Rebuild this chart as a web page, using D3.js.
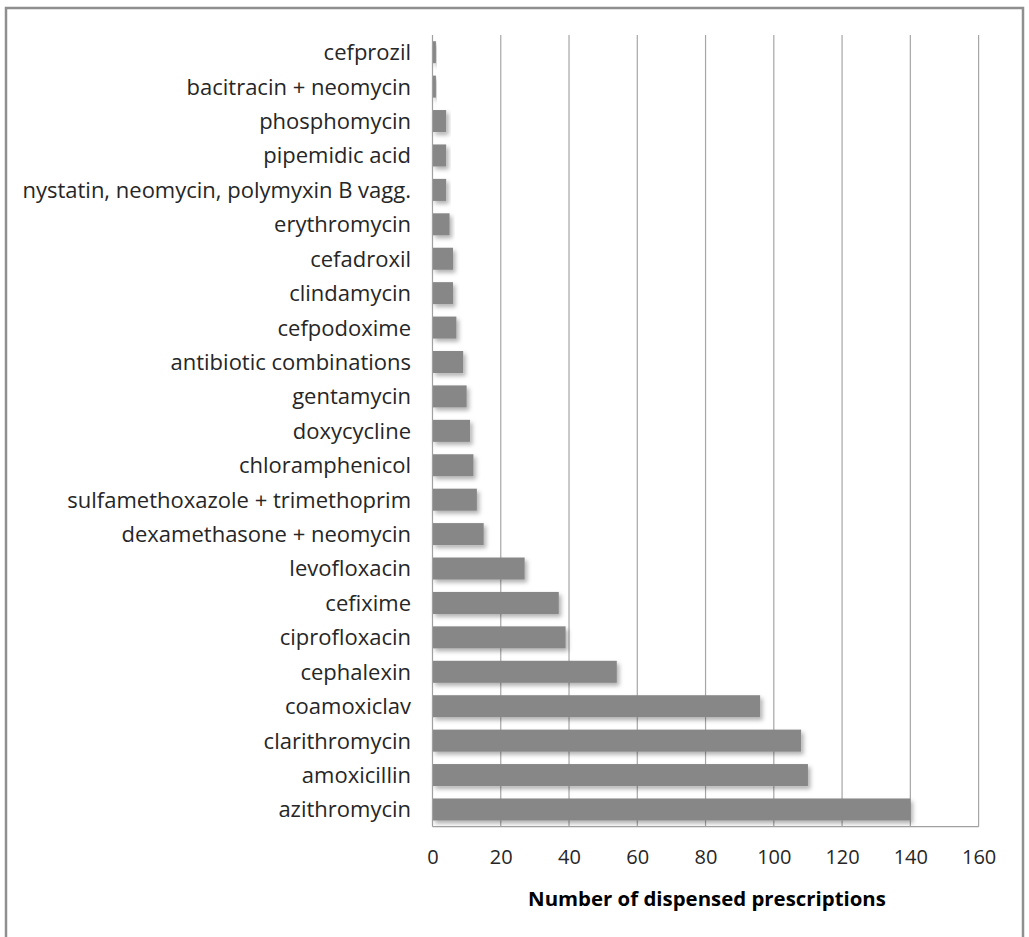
<!DOCTYPE html>
<html>
<head>
<meta charset="utf-8">
<script src="https://d3js.org/d3.v7.min.js"></script>
<style>
html,body{margin:0;padding:0;background:#fff;}
svg{display:block;}
text{font-family:"Open Sans",Lato,sans-serif;}
</style>
</head>
<body>
<script>
const categories = ["cefprozil","bacitracin + neomycin","phosphomycin","pipemidic acid","nystatin, neomycin, polymyxin B vagg.","erythromycin","cefadroxil","clindamycin","cefpodoxime","antibiotic combinations","gentamycin","doxycycline","chloramphenicol","sulfamethoxazole + trimethoprim","dexamethasone + neomycin","levofloxacin","cefixime","ciprofloxacin","cephalexin","coamoxiclav","clarithromycin","amoxicillin","azithromycin"];
const values = [1,1,4,4,4,5,6,6,7,9,10,11,12,13,15,27,37,39,54,96,108,110,140];
const xTicks = [0,20,40,60,80,100,120,140,160];
const xTitle = "Number of dispensed prescriptions";

(function(){
const W = 1029, H = 937;
const svg = d3.select("body").append("svg").attr("width", W).attr("height", H);

const defs = svg.append("defs");
const f = defs.append("filter").attr("id","shadow").attr("x","-20%").attr("y","-40%").attr("width","150%").attr("height","200%");
f.append("feDropShadow").attr("dx",2.5).attr("dy",3).attr("stdDeviation",2.2).attr("flood-color","#000").attr("flood-opacity",0.3);

// outer border
svg.append("rect").attr("x",6).attr("y",8).attr("width",1017).attr("height",960)
  .attr("fill","none").attr("stroke","#8f8f8f").attr("stroke-width",2.5);

const pL = 432.5, pR = 978.6, pT = 35, pB = 826.7;
const x = d3.scaleLinear().domain([0,160]).range([pL,pR]);
const y = d3.scaleBand().domain(categories).range([pT,pB]).paddingInner(0.36).paddingOuter(0.18);

// gridlines
svg.append("g").selectAll("line").data(xTicks.slice(1)).join("line")
  .attr("x1",d=>x(d)).attr("x2",d=>x(d)).attr("y1",pT).attr("y2",pB)
  .attr("stroke","#a6a6a6").attr("stroke-width",1.2);

// bars
svg.append("g").selectAll("rect").data(values).join("rect")
  .attr("x",x(0)).attr("y",(d,i)=>y(categories[i]))
  .attr("width",d=>x(d)-x(0)).attr("height",y.bandwidth())
  .attr("fill","#878787").attr("filter","url(#shadow)");

// axis lines
svg.append("line").attr("x1",x(0)).attr("x2",x(0)).attr("y1",pT).attr("y2",pB)
  .attr("stroke","#a0a0a0").attr("stroke-width",1.2);
svg.append("line").attr("x1",x(0)).attr("x2",pR).attr("y1",pB).attr("y2",pB)
  .attr("stroke","#a0a0a0").attr("stroke-width",1.2);

// category labels
svg.append("g").selectAll("text").data(categories).join("text")
  .attr("x",411).attr("y",d=>y(d)+y.bandwidth()/2).attr("dy","0.36em")
  .attr("text-anchor","end").attr("font-size",22).attr("fill","#262626")
  .text(d=>d);

// x tick labels
const xAxis = d3.axisBottom(x).tickValues(xTicks).tickSize(0).tickPadding(0);
const gx = svg.append("g").attr("transform",`translate(0,${pB})`).call(xAxis);
gx.select(".domain").remove();
gx.selectAll("text").attr("font-size",20).attr("fill","#262626")
  .attr("font-family","'Open Sans',Lato,sans-serif").attr("y",23).attr("dy","0.71em");

// x title
svg.append("text").attr("x",(528+886)/2).attr("y",906).attr("text-anchor","middle")
  .attr("font-size",20.4).attr("font-weight","bold").attr("fill","#000").text(xTitle);
})();
</script>
</body>
</html>
